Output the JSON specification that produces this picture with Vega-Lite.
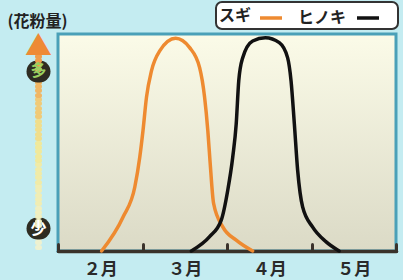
{
  "$schema": "https://vega.github.io/schema/vega-lite/v6.json",
  "width": 338,
  "height": 217,
  "autosize": {"type": "none"},
  "padding": {"left": 58, "top": 34, "right": 7, "bottom": 29},
  "background": "#c4ecf1",
  "config": {"legend": {"strokeWidth": 2}},
  "view": {
    "fill": {"gradient": "linear", "x1": 0, "y1": 0, "x2": 0, "y2": 1,
      "stops": [{"offset": 0, "color": "#fbfbe8"}, {"offset": 1, "color": "#dbdac6"}]},
    "stroke": "#4aa0b8",
    "strokeWidth": 3
  },
  "data": {"values": [
    {"x": 0.516, "y": 0, "s": "スギ"},
    {"x": 0.770, "y": 15.7, "s": "スギ"},
    {"x": 0.909, "y": 29.5, "s": "スギ"},
    {"x": 0.968, "y": 43.3, "s": "スギ"},
    {"x": 1.006, "y": 55.5, "s": "スギ"},
    {"x": 1.047, "y": 70.8, "s": "スギ"},
    {"x": 1.106, "y": 83.0, "s": "スギ"},
    {"x": 1.204, "y": 92.2, "s": "スギ"},
    {"x": 1.392, "y": 98.0, "s": "スギ"},
    {"x": 1.558, "y": 93.7, "s": "スギ"},
    {"x": 1.676, "y": 84.5, "s": "スギ"},
    {"x": 1.735, "y": 70.8, "s": "スギ"},
    {"x": 1.773, "y": 55.5, "s": "スギ"},
    {"x": 1.801, "y": 40.4, "s": "スギ"},
    {"x": 1.841, "y": 22.0, "s": "スギ"},
    {"x": 1.950, "y": 11.1, "s": "スギ"},
    {"x": 2.109, "y": 5.0, "s": "スギ"},
    {"x": 2.304, "y": 0, "s": "スギ"},
    {"x": 1.578, "y": 0, "s": "ヒノキ"},
    {"x": 1.794, "y": 6.6, "s": "ヒノキ"},
    {"x": 1.932, "y": 14.2, "s": "ヒノキ"},
    {"x": 2.009, "y": 28.0, "s": "ヒノキ"},
    {"x": 2.068, "y": 43.3, "s": "ヒノキ"},
    {"x": 2.109, "y": 58.6, "s": "ヒノキ"},
    {"x": 2.139, "y": 78.4, "s": "ヒノキ"},
    {"x": 2.186, "y": 89.1, "s": "ヒノキ"},
    {"x": 2.304, "y": 96.8, "s": "ヒノキ"},
    {"x": 2.454, "y": 98.3, "s": "ヒノキ"},
    {"x": 2.619, "y": 96.0, "s": "ヒノキ"},
    {"x": 2.717, "y": 89.1, "s": "ヒノキ"},
    {"x": 2.758, "y": 78.4, "s": "ヒノキ"},
    {"x": 2.797, "y": 58.6, "s": "ヒノキ"},
    {"x": 2.836, "y": 37.2, "s": "ヒノキ"},
    {"x": 2.895, "y": 20.3, "s": "ヒノキ"},
    {"x": 3.012, "y": 11.1, "s": "ヒノキ"},
    {"x": 3.170, "y": 4.3, "s": "ヒノキ"},
    {"x": 3.327, "y": 0, "s": "ヒノキ"}
  ]},
  "mark": {"type": "line", "interpolate": "monotone", "strokeWidth": 3.5, "strokeCap": "round"},
  "encoding": {
    "x": {
      "field": "x", "type": "quantitative",
      "scale": {"domain": [0, 4], "nice": false, "zero": false},
      "axis": {
        "title": null, "grid": false,
        "values": [0, 0.5, 1, 1.5, 2, 2.5, 3, 3.5, 4],
        "labelExpr": "datum.value == 0.5 ? '２月' : datum.value == 1.5 ? '３月' : datum.value == 2.5 ? '４月' : datum.value == 3.5 ? '５月' : ''",
        "labelOverlap": false, "labelFlush": false,
        "domainColor": "#3a322b", "domainWidth": 3.5, "domainCap": "round",
        "tickSize": -7, "tickWidth": 3, "tickCap": "round",
        "tickColor": {"condition": {"test": "datum.value % 1 != 0", "value": "transparent"}, "value": "#3a322b"},
        "labelPadding": 17, "labelFont": "Noto Sans CJK JP", "labelFontSize": 17,
        "labelFontWeight": "bold", "labelColor": "#2a2a2a"
      }
    },
    "y": {
      "field": "y", "type": "quantitative",
      "scale": {"domain": [0, 100], "nice": false},
      "axis": {
        "grid": false, "offset": 19, "domain": false,
        "title": "(花粉量)", "titleAngle": 0, "titleX": -32, "titleY": -13,
        "titleAlign": "left", "titleBaseline": "middle",
        "titleFont": "Noto Sans CJK JP", "titleFontSize": 16, "titleFontWeight": "bold", "titleColor": "#222222",
        "values": [2,4,6,8,10,12,14,16,18,20,22,24,26,28,30,32,34,36,38,40,42,44,46,48,50,52,54,56,58,60,62,64,66,68,70,72,74,76,78,80,82,84,86,88,90,94,10.5,83],
        "labelExpr": "datum.value == 94 ? '▲' : datum.value == 83 ? '多' : datum.value == 10.5 ? '少' : ''",
        "tickSize": 2, "tickCap": "round",
        "tickWidth": {"condition": {"test": "datum.value == 83 || datum.value == 10.5", "value": 22}, "value": 5},
        "tickColor": {"condition": [
          {"test": "datum.value == 83 || datum.value == 10.5", "value": "#2e2c22"},
          {"test": "datum.value == 94", "value": "transparent"},
          {"test": "datum.value > 85", "value": "#f09c4a"},
          {"test": "datum.value > 78", "value": "#f0a755"},
          {"test": "datum.value > 70", "value": "#f0b664"},
          {"test": "datum.value > 60", "value": "#f0ca78"},
          {"test": "datum.value > 50", "value": "#f0de8c"},
          {"test": "datum.value > 40", "value": "#f0e99c"},
          {"test": "datum.value > 30", "value": "#f0eba8"},
          {"test": "datum.value > 20", "value": "#f0edb4"},
          {"test": "datum.value > 10", "value": "#f0efc0"}
        ], "value": "#eef1d0"},
        "labelPadding": -1, "labelAlign": "center", "labelBaseline": "middle",
        "labelFont": "Noto Sans CJK JP", "labelFontWeight": "bold",
        "labelFontSize": {"condition": {"test": "datum.value == 94", "value": 27}, "value": 16},
        "labelColor": {"condition": [{"test": "datum.value == 94", "value": "#ee8a35"}, {"test": "datum.value == 83", "value": "#9ad060"}], "value": "#ffffff"},
        "labelOverlap": false, "labelFlush": false
      }
    },
    "color": {
      "field": "s", "type": "nominal",
      "scale": {"domain": ["スギ", "ヒノキ"], "range": ["#ee8a30", "#111111"]},
      "legend": {
        "title": "スギ", "titleOrient": "left", "titlePadding": 6,
        "titleFont": "Noto Sans CJK JP", "titleFontSize": 16, "titleFontWeight": "bold", "titleColor": "#222222",
        "orient": "none", "legendX": 158, "legendY": -32,
        "direction": "horizontal", "symbolType": "stroke", "symbolSize": 484,
        "symbolStrokeWidth": 3.5,
        "labelExpr": "datum.label == 'スギ' ? 'ヒノキ' : ''",
        "labelOffset": 14,
        "labelFont": "Noto Sans CJK JP", "labelFontSize": 16, "labelFontWeight": "bold",
        "labelColor": "#222222", "fillColor": "#ffffff", "strokeColor": "#333333",
        "cornerRadius": 6, "padding": 3, "columnPadding": 3
      }
    }
  }
}
